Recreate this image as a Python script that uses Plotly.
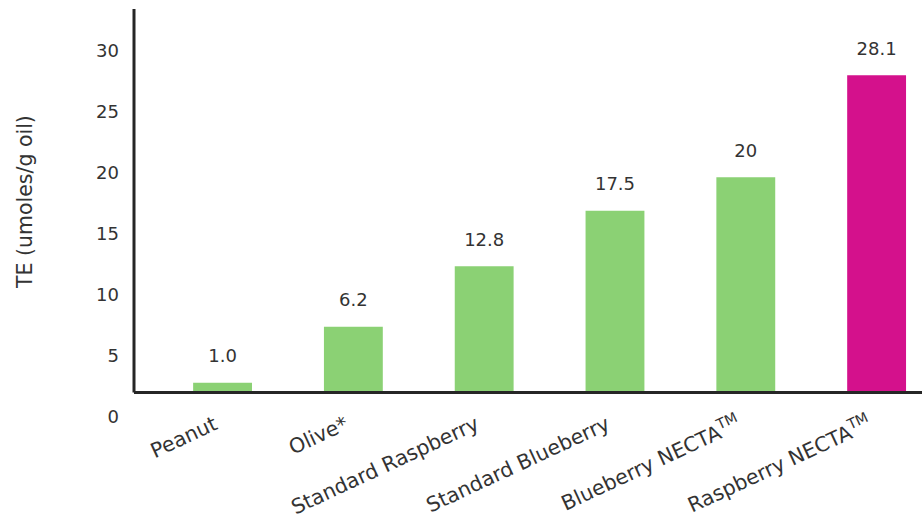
import plotly.graph_objects as go

# ---- data ----
categories = ["Peanut", "Olive*", "Standard Raspberry", "Standard Blueberry",
              "Blueberry NECTA<sup>TM</sup>", "Raspberry NECTA<sup>TM</sup>"]
te_labels = ["1.0", "6.2", "12.8", "17.5", "20", "28.1"]
bar_tops = [2.8, 7.4, 12.35, 16.9, 19.65, 28.0]   # bar tops read against the y axis
axis_floor = 2.0                                   # where the drawn baseline sits
y_ticks = [0, 5, 10, 15, 20, 25, 30]

# ---- style ----
GREEN = "#8bd174"
MAGENTA = "#d4118c"
TEXT = "#333333"
LINE = "#262626"
FONT = "DejaVu Sans"
bar_colors = [GREEN, GREEN, GREEN, GREEN, GREEN, MAGENTA]
y_top = 33.44
label_gap = 2.05

fig = go.Figure()
fig.add_trace(go.Bar(
    x=categories,
    y=[t - axis_floor for t in bar_tops],
    base=axis_floor,
    width=0.45,
    marker=dict(color=bar_colors, line=dict(width=0)),
    hoverinfo="skip",
))
fig.add_trace(go.Scatter(
    x=categories,
    y=[t + label_gap for t in bar_tops],
    mode="text",
    text=te_labels,
    textposition="middle center",
    textfont=dict(family=FONT, size=18, color=TEXT),
    cliponaxis=False,
    hoverinfo="skip",
))

fig.update_layout(
    width=922, height=526,
    margin=dict(l=134, r=0, t=9, b=109),
    paper_bgcolor="white", plot_bgcolor="white",
    showlegend=False,
    font=dict(family=FONT, color=TEXT, size=18),
    xaxis=dict(
        type="category", range=[-0.677, 5.347], automargin=False,
        showline=False, showgrid=False, zeroline=False,
        ticks="", tickangle=-25,
        ticklabelstandoff=-9, ticklabelshift=-8,
        tickfont=dict(family=FONT, size=20.5, color=TEXT),
    ),
    yaxis=dict(
        range=[0, y_top], tickvals=y_ticks, automargin=False,
        showline=False, showgrid=False, zeroline=False,
        ticks="", ticklabelstandoff=14,
        tickfont=dict(family=FONT, size=18, color=TEXT),
    ),
    shapes=[
        dict(type="line", xref="paper", x0=0, x1=1, yref="y",
             y0=axis_floor, y1=axis_floor, line=dict(color=LINE, width=3)),
        dict(type="line", xref="paper", x0=0, x1=0, yref="y",
             y0=axis_floor, y1=y_top, line=dict(color=LINE, width=3)),
    ],
    annotations=[
        dict(text="TE (umoles/g oil)", xref="paper", yref="paper",
             x=-0.1383, y=0.527, xanchor="center", yanchor="middle",
             textangle=-90, showarrow=False,
             font=dict(family=FONT, size=20.5, color=TEXT)),
    ],
)

fig.write_html("out.html")
